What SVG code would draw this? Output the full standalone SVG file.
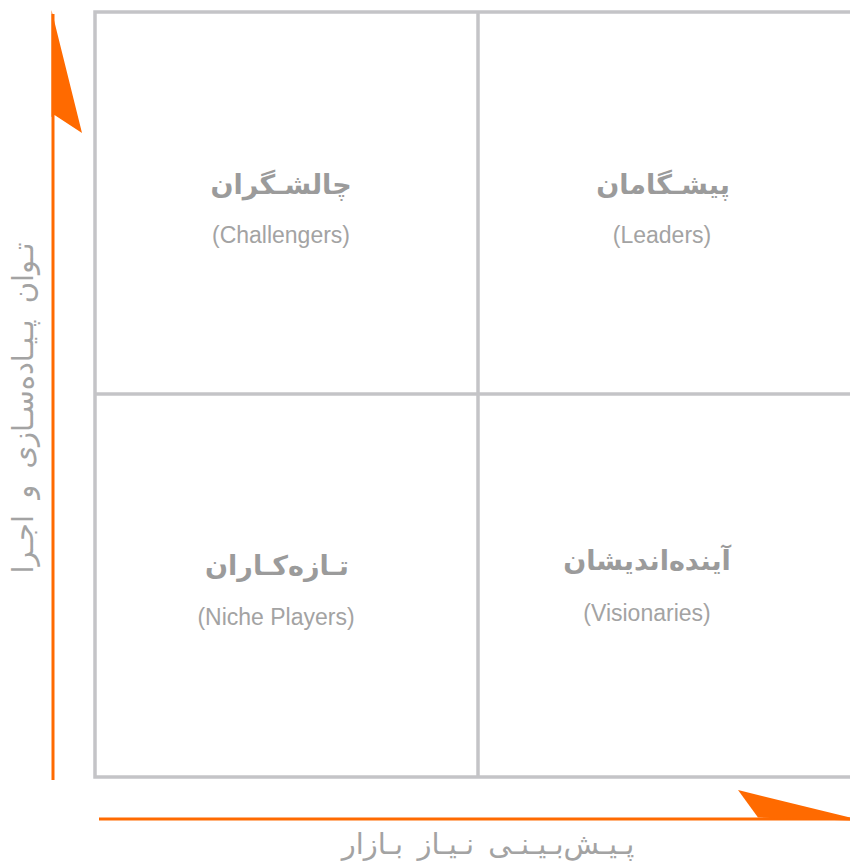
<svg xmlns="http://www.w3.org/2000/svg" width="850" height="861" viewBox="0 0 850 861">
<style>
.grid{fill:none;stroke:#c4c4c7;stroke-width:3.5}
.axis{stroke:#ff6a00;stroke-width:3;fill:none}
.head{fill:#ff6a00;stroke:none}
.fa{font-family:"DejaVu Sans",sans-serif;font-weight:bold;font-size:27px;fill:#9b9b9b;text-anchor:middle}
.en{font-family:"Liberation Sans",Arial,sans-serif;font-size:23px;fill:#a3a3a3;text-anchor:middle}
.ax{font-family:"DejaVu Sans",sans-serif;font-size:29px;fill:#a3a3a3;text-anchor:middle}
</style>
<rect width="850" height="861" fill="#ffffff"/>
<g id="grid">
<rect class="grid" x="95" y="12" width="770" height="765"/>
<line class="grid" x1="478" y1="12" x2="478" y2="777"/>
<line class="grid" x1="95" y1="394" x2="850" y2="394"/>
</g>
<g id="connectors">
<line class="axis" x1="53" y1="14" x2="53" y2="780"/>
<polygon class="head" points="51.5,10 82,133 54.5,115 51.5,117"/>
<line class="axis" x1="99" y1="819" x2="850" y2="819"/>
<polygon class="head" points="738,790 850,817.5 850,820.5 758,817.5"/>
</g>
<g id="challengers">
<text class="fa" x="281" y="194" direction="rtl">چالشـگران</text>
<text class="en" x="281" y="243">(Challengers)</text>
</g>
<g id="leaders">
<text class="fa" x="663" y="194" direction="rtl">پیشـگامان</text>
<text class="en" x="662" y="243">(Leaders)</text>
</g>
<g id="niche">
<text class="fa" x="277" y="575" direction="rtl">تـازه‌کـاران</text>
<text class="en" x="276" y="625">(Niche Players)</text>
</g>
<g id="visionaries">
<text class="fa" x="647" y="570" direction="rtl">آینده‌اندیشان</text>
<text class="en" x="647" y="621">(Visionaries)</text>
</g>
<g id="axis-labels">
<text class="ax" transform="translate(33,408) rotate(-90)" direction="rtl" word-spacing="7">تـوان پـیـاده‌سـازی و اجـرا</text>
<text class="ax" x="488" y="854" direction="rtl" word-spacing="5">پـیـش‌بـیـنـی نـیـاز بـازار</text>
</g>
</svg>
